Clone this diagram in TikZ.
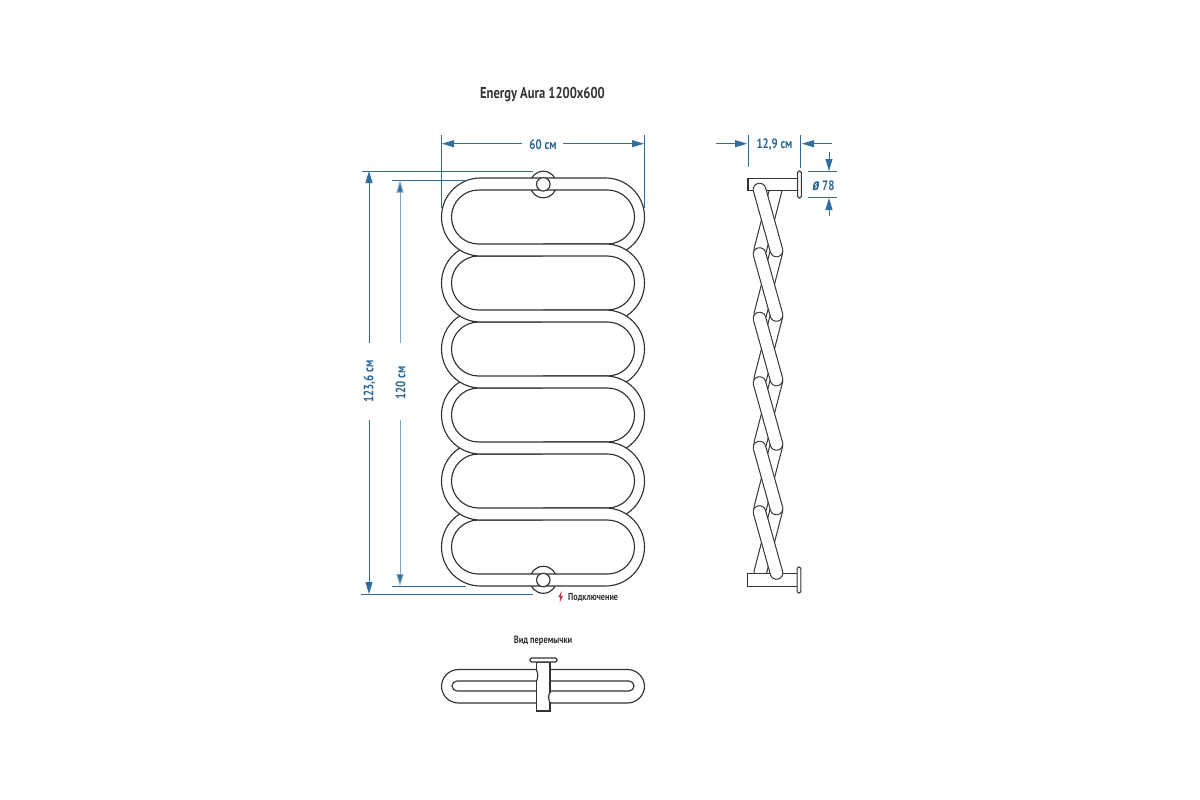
\documentclass[tikz,border=0pt]{standalone}
\usepackage{fontspec}
\setmainfont{PT Sans}[FakeStretch=0.8]
\usetikzlibrary{arrows.meta}
\definecolor{dimblue}{HTML}{2F6E9F}
\definecolor{dimlight}{HTML}{7BA5C3}
\definecolor{dimtext}{HTML}{2A6797}
\definecolor{ink}{HTML}{333333}
\definecolor{bolt}{HTML}{C9364B}
\tikzset{
  x=1pt,y=-1pt,
  tube/.style={draw=ink,line width=1.15pt,fill=white},
  tubeline/.style={draw=ink,line width=1.15pt},
  dimline/.style={draw=dimblue,line width=.85pt},
  dimpale/.style={draw=dimlight,line width=.95pt},
  dimarrow/.style={dimline,-{Triangle[length=12pt,width=7pt,fill=dimblue]}},
  dimarrowpale/.style={dimpale,-{Triangle[length=12pt,width=7pt,fill=dimblue]}},
  dimlabel/.style={text=dimtext,font=\bfseries\fontsize{13.6}{15}\selectfont,inner sep=0pt},
  inklabel/.style={text=ink,font=\bfseries\fontsize{10.2}{12}\selectfont,inner sep=0pt},
}
\begin{document}
\begin{tikzpicture}
\useasboundingbox (0,0) rectangle (1200,800);
\fill[white] (0,0) rectangle (1200,800);

% ---------- front view: left half, upper pill lies on top
\begin{scope}
  \clip (400,150) rectangle (543.2,600);
  \foreach \i in {5,4,3,2,1,0}{
    \pgfmathsetmacro{\yo}{178+66*\i}
    \draw[tube,rounded corners=39pt] (441.5,\yo) rectangle (644.5,\yo+78);
    \draw[tubeline,rounded corners=27pt] (451.5,\yo+12) rectangle (634.5,\yo+66);
  }
\end{scope}
% right half, lower pill lies on top
\begin{scope}
  \clip (542.8,150) rectangle (700,600);
  \foreach \i in {0,1,2,3,4,5}{
    \pgfmathsetmacro{\yo}{178+66*\i}
    \draw[tube,rounded corners=39pt] (441.5,\yo) rectangle (644.5,\yo+78);
    \draw[tubeline,rounded corners=27pt] (451.5,\yo+12) rectangle (634.5,\yo+66);
  }
\end{scope}
% connection collars
\begin{scope}
  \clip (520,160) rectangle (566,178) (520,190) rectangle (566,210);
  \draw[tubeline] (543.3,184.5) circle[radius=13.3];
\end{scope}
\begin{scope}
  \clip (520,555) rectangle (566,574) (520,586) rectangle (566,600);
  \draw[tubeline] (543.3,579.8) circle[radius=13.5];
\end{scope}
\node[tube,circle,minimum size=13.5pt,inner sep=0pt] (collarTop) at (543.3,184.3) {};
\node[tube,circle,minimum size=13.5pt,inner sep=0pt] (collarBottom) at (543.3,580) {};

% ---------- side view
\foreach \i in {0,...,5}{
  \pgfmathsetmacro{\a}{187+64.5*\i}
  \pgfmathsetmacro{\b}{250+64.5*\i}
  \draw[ink,line width=13.6pt,line cap=round] (776.5,\a) -- (760.2,\b);
  \draw[white,line width=11.4pt,line cap=round] (776.5,\a) -- (760.2,\b);
}
\node[tube,rectangle,minimum width=50pt,minimum height=12.5pt,inner sep=0pt] (bracketTop) at (773,184.5) {};
\node[tube,rectangle,rounded corners=1.5pt,minimum width=3.8pt,minimum height=27pt,inner sep=0pt] (plateTop) at (799.5,184.5) {};
\node[tube,rectangle,minimum width=50pt,minimum height=13pt,inner sep=0pt] (bracketBottom) at (772.5,580) {};
\node[tube,rectangle,rounded corners=1.5pt,minimum width=3.8pt,minimum height=26pt,inner sep=0pt] (plateBottom) at (799,580) {};
\foreach \i in {0,...,5}{
  \pgfmathsetmacro{\a}{189.5+64.5*\i}
  \pgfmathsetmacro{\b}{250.5+64.5*\i}
  \draw[ink,line width=13.6pt,line cap=round] (759.5,\a) -- (776.5,\b);
  \draw[white,line width=11.4pt,line cap=round] (759.5,\a) -- (776.5,\b);
}

% ---------- jumper view
\draw[tubeline,rounded corners=17pt] (441.5,669.5) rectangle (644.5,703);
\draw[tubeline,rounded corners=5pt] (452,681) rectangle (634,691);
\node[tube,rectangle,minimum width=13.5pt,minimum height=49pt,inner sep=0pt] (stem) at (543.3,686.5) {};
\node[tube,rectangle,rounded corners=1.5pt,minimum width=27pt,minimum height=4pt,inner sep=0pt] (flange) at (543.5,660) {};
\draw[white,line width=1.6pt] (536.6,671) -- (536.6,680);
\draw[tubeline] (536.4,670) .. controls (538.2,673) and (538.2,677) .. (536.6,681);
\draw[white,line width=1.6pt] (550,693) -- (550,702);
\draw[tubeline] (550.1,692) .. controls (548.2,695) and (548.2,699) .. (550,703);

% ---------- labels
\node[inklabel,font=\bfseries\fontsize{15.7}{17}\selectfont] (title) at (542.5,94.5) {Energy Aura 1200x600};
\node[inklabel,anchor=west] (connect) at (568,597.5) {Подключение};
\node[inklabel,font=\bfseries\fontsize{10.5}{12}\selectfont] (jumper) at (543,641) {Вид перемычки};
\node[dimlabel] (w60) at (543,144.5) {60 см};
\node[dimlabel] (w129) at (774.5,144.5) {12,9 см};
\node[dimlabel] (d78) at (823.5,185.5) {{\itshape\fontsize{17}{17}\selectfont ø} 78};
\node[dimlabel,rotate=90] (h1236) at (369.5,381.5) {123,6 см};
\node[dimlabel,rotate=90] (h120) at (400.5,383) {120 см};
\fill[bolt] (561.8,590.8) -- (558.2,597.4) -- (560.2,597.2) -- (559.6,602.6) -- (563,596) -- (561,596.2) -- cycle;

% ---------- dimension end points
\coordinate (wL) at (442,143.7); \coordinate (wLi) at (522,143.7);
\coordinate (wR) at (644,143.7); \coordinate (wRi) at (563,143.7);
\coordinate (wLtop) at (441.5,135); \coordinate (wLbot) at (441.5,208);
\coordinate (wRtop) at (644.5,135); \coordinate (wRbot) at (644.5,208);
\coordinate (aT) at (369,171); \coordinate (aTi) at (369,343);
\coordinate (aB) at (369,594); \coordinate (aBi) at (369,420);
\coordinate (aTl) at (362,171); \coordinate (aTr) at (533,171);
\coordinate (aBl) at (361,594.5); \coordinate (aBr) at (533,594.5);
\coordinate (bT) at (400,180.5); \coordinate (bTi) at (400,343);
\coordinate (bB) at (400,586); \coordinate (bBi) at (400,420);
\coordinate (bTl) at (392,180.5); \coordinate (bTr) at (467,180.5);
\coordinate (bBl) at (392,586); \coordinate (bBr) at (466,586);
\coordinate (sL) at (747,143.7); \coordinate (sLo) at (716,143.7);
\coordinate (sR) at (802,143.7); \coordinate (sRo) at (832,143.7);
\coordinate (sLt) at (748,135); \coordinate (sLb) at (748,167);
\coordinate (sRt) at (800.7,135); \coordinate (sRb) at (800.7,167.5);
\coordinate (dT) at (829,171); \coordinate (dTo) at (829,152);
\coordinate (dB) at (829,198); \coordinate (dBo) at (829,215.7);
\coordinate (dTl) at (808,171); \coordinate (dTr) at (837,171);
\coordinate (dBl) at (808,197.7); \coordinate (dBr) at (837,197.7);

% ---------- dimension lines
\draw[dimline] (wLtop) -- (wLbot);
\draw[dimline] (wRtop) -- (wRbot);
\draw[dimarrow] (wLi) -- (wL);
\draw[dimarrow] (wRi) -- (wR);
\draw[dimline] (aTl) -- (aTr);
\draw[dimline] (aBl) -- (aBr);
\draw[dimarrow] (aTi) -- (aT);
\draw[dimarrow] (aBi) -- (aB);
\draw[dimline] (bTl) -- (bTr);
\draw[dimline] (bBl) -- (bBr);
\draw[dimarrowpale] (bTi) -- (bT);
\draw[dimarrowpale] (bBi) -- (bB);
\draw[dimline] (sLt) -- (sLb);
\draw[dimline] (sRt) -- (sRb);
\draw[dimarrow] (sLo) -- (sL);
\draw[dimarrow] (sRo) -- (sR);
\draw[dimline] (dTl) -- (dTr);
\draw[dimline] (dBl) -- (dBr);
\draw[dimarrow] (dTo) -- (dT);
\draw[dimarrow] (dBo) -- (dB);
\end{tikzpicture}
\end{document}
